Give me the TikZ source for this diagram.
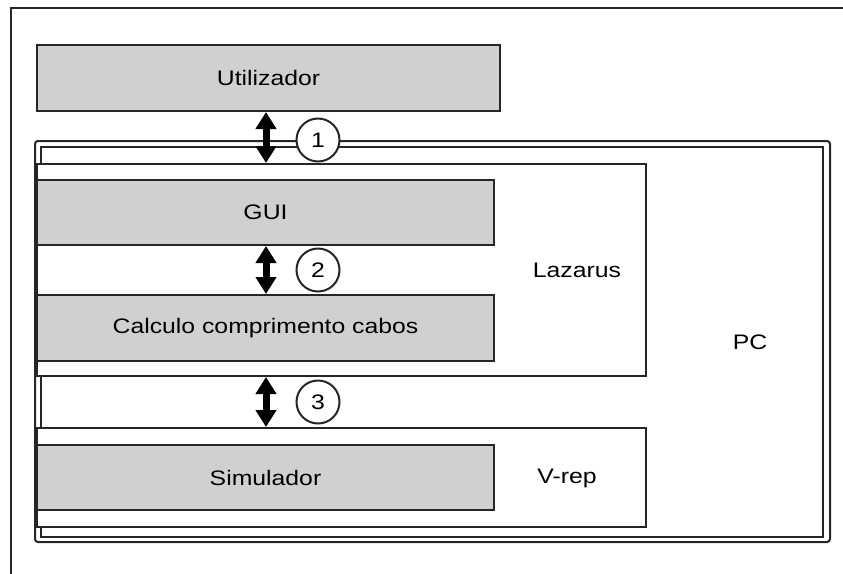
\documentclass[tikz,border=0pt]{standalone}
\usepackage{fontspec}
\newfontfamily\labfont[FakeStretch=1.18]{Liberation Sans}
\usetikzlibrary{arrows.meta}
\definecolor{edge}{HTML}{262626}
\definecolor{boxgray}{HTML}{D0D0D0}
\begin{document}
\begin{tikzpicture}[x=1pt,y=-1pt,
  every node/.style={font=\labfont\fontsize{21}{25}\selectfont, text=black},
  graybox/.style={draw=edge, line width=2pt, fill=boxgray, inner sep=0pt},
  whitebox/.style={draw=edge, line width=2pt, fill=white, inner sep=0pt},
  numcirc/.style={circle, draw=edge, line width=2pt, fill=white, minimum size=43pt, inner sep=0pt},
  biglink/.style={line width=7pt, draw=black, {Triangle[width=20pt,length=17pt]}-{Triangle[width=20pt,length=17pt]}},
  frameline/.style={draw=edge, line width=2pt}]
\useasboundingbox (0,0) rectangle (843,573);
% outer frame (cut by the page)
\draw[frameline] (11,590) -- (11,8) -- (860,8);
% PC double frame
\draw[frameline, rounded corners=3pt] (35,141) rectangle (830,542);
\draw[frameline] (41,147) rectangle (823,537);
\node (pc) at (750,342) {PC};
% Lazarus and V-rep containers
\node[whitebox, minimum width=609pt, minimum height=212pt] (laz) at (341.5,270) {};
\node (lazlbl) at (577,270) {Lazarus};
\node[whitebox, minimum width=609pt, minimum height=99pt] (vrep) at (341.5,477.5) {};
\node (vreplbl) at (567,478) {V-rep};
% gray boxes
\node[graybox, minimum width=463pt, minimum height=66pt] (util) at (268.5,78) {Utilizador};
\node[graybox, minimum width=457pt, minimum height=65pt] (gui) at (265.5,212.5) {GUI};
\node[graybox, minimum width=457pt, minimum height=66pt] (calc) at (265.5,328) {Calculo comprimento cabos};
\node[graybox, minimum width=457pt, minimum height=65pt] (sim) at (265.5,477.5) {Simulador};
% arrows
\coordinate (ax) at (266,0);
\draw[biglink] (util.south -| ax) -- (laz.north -| ax);
\draw[biglink] (gui.south -| ax) -- (calc.north -| ax);
\draw[biglink] (laz.south -| ax) -- (vrep.north -| ax);
% numbered circles
\node[numcirc] (c1) at (318,140) {1};
\node[numcirc] (c2) at (318,270) {2};
\node[numcirc] (c3) at (318,402) {3};
\end{tikzpicture}
\end{document}
